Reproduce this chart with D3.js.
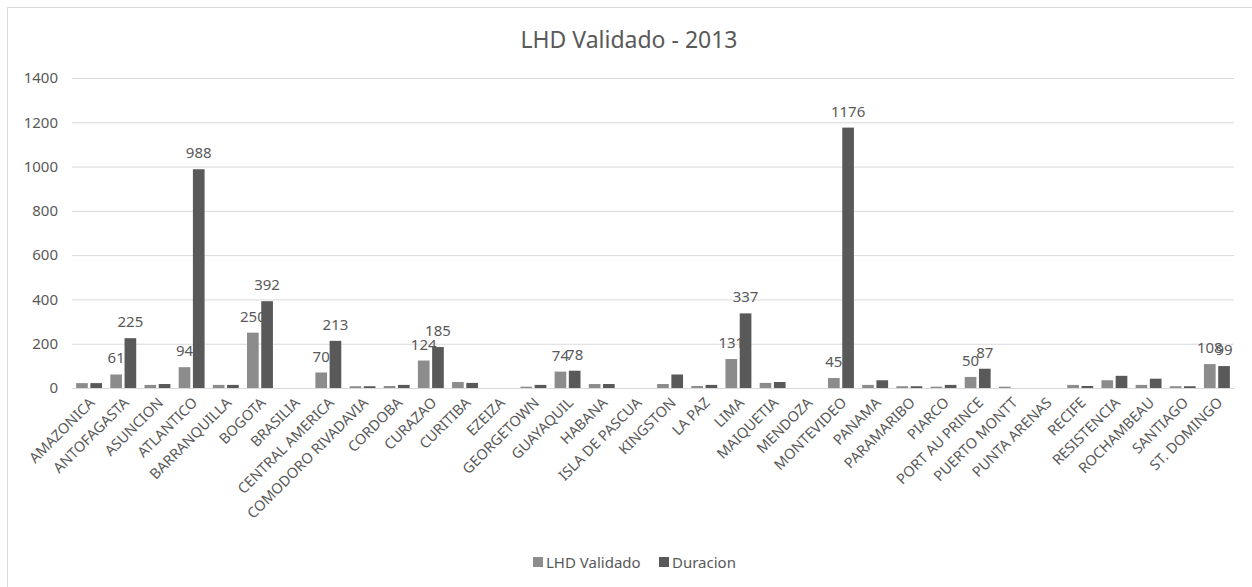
<!DOCTYPE html>
<html>
<head>
<meta charset="utf-8">
<script src="https://cdn.jsdelivr.net/npm/d3@7"></script>
<style>
  body { margin: 0; background: #fff; }
  text { font-family: "Noto Sans", "Open Sans", sans-serif; fill: #595959; }
</style>
</head>
<body>
<div id="chart"></div>
<script>
// values
const categories = ["AMAZONICA", "ANTOFAGASTA", "ASUNCION", "ATLANTICO", "BARRANQUILLA", "BOGOTA", "BRASILIA",
  "CENTRAL AMERICA", "COMODORO RIVADAVIA", "CORDOBA", "CURAZAO", "CURITIBA", "EZEIZA", "GEORGETOWN", "GUAYAQUIL",
  "HABANA", "ISLA DE PASCUA", "KINGSTON", "LA PAZ", "LIMA", "MAIQUETIA", "MENDOZA", "MONTEVIDEO", "PANAMA",
  "PARAMARIBO", "PIARCO", "PORT AU PRINCE", "PUERTO MONTT", "PUNTA ARENAS", "RECIFE", "RESISTENCIA",
  "ROCHAMBEAU", "SANTIAGO", "ST. DOMINGO"]
const lhdValidado = [22, 61, 14, 94, 14, 250, 0, 70, 8, 9, 124, 27, 0, 6, 74, 18, 0, 18, 9, 131, 23, 0, 45, 14,
  8, 6, 50, 6, 0, 14, 35, 14, 8, 108]
const duracion = [22, 225, 18, 988, 14, 392, 0, 213, 8, 14, 185, 23, 0, 14, 78, 18, 0, 61, 14, 337, 27, 0, 1176, 35,
  8, 14, 87, 0, 0, 9, 55, 42, 8, 99]
// categories whose bars carry a data label
const labeled = ["ANTOFAGASTA", "ATLANTICO", "BOGOTA", "CENTRAL AMERICA", "CURAZAO", "GUAYAQUIL", "LIMA",
  "MONTEVIDEO", "PORT AU PRINCE", "ST. DOMINGO"]
const yTicks = [0, 200, 400, 600, 800, 1000, 1200, 1400]
const seriesNames = ["LHD Validado", "Duracion"]
const seriesColors = ["#8c8c8c", "#595959"]

const width = 1252
const height = 587
const plotLeft = 72, plotRight = 1234, plotTop = 78, plotBottom = 388

let svg = d3.select("#chart")
            .append("svg")
            .attr("width", width)
            .attr("height", height)

// chart border
svg.append("rect")
   .attr("x", 7.5).attr("y", 7.5)
   .attr("width", 1400).attr("height", 800)
   .attr("fill", "none")
   .attr("stroke", "#d9d9d9")

svg.append("text")
   .attr("x", 629).attr("y", 48)
   .attr("text-anchor", "middle")
   .style("font-size", "23px")
   .text("LHD Validado - 2013")

let yScale = d3.scaleLinear().domain([0, 1400]).range([plotBottom, plotTop])
let xScale = d3.scaleBand().domain(categories).range([plotLeft, plotRight])
let xSub = d3.scaleBand().domain(seriesNames).range([0, xScale.step()])
             .paddingInner(0.18).paddingOuter(0.29)

//gridlines + y labels
let yAxis = d3.axisLeft(yScale)
              .tickValues(yTicks)
              .tickFormat(d3.format("d"))
              .tickSize(-(plotRight - plotLeft))
              .tickPadding(14)

let yg = svg.append("g")
            .attr("transform", `translate(${plotLeft}, 0)`)
            .call(yAxis)
yg.select(".domain").remove()
yg.selectAll(".tick line").attr("stroke", "#d9d9d9")
yg.selectAll(".tick text").style("font-size", "15px").attr("fill", "#595959")

//bars
let rows = categories.map((c, i) => ({ cat: c, values: [lhdValidado[i], duracion[i]] }))

let groups = svg.selectAll(".grp")
                .data(rows)
                .enter()
                .append("g")
                .attr("class", "grp")
                .attr("transform", d => `translate(${xScale(d.cat)}, 0)`)

groups.selectAll("rect")
      .data(d => d.values.map((v, k) => ({ name: seriesNames[k], v: v, k: k })))
      .enter()
      .append("rect")
      .attr("x", d => xSub(d.name))
      .attr("y", d => yScale(d.v))
      .attr("width", xSub.bandwidth())
      .attr("height", d => plotBottom - yScale(d.v))
      .attr("fill", d => seriesColors[d.k])

//data labels
groups.filter(d => labeled.includes(d.cat))
      .selectAll(".lbl")
      .data(d => d.values.map((v, k) => ({ name: seriesNames[k], v: v })))
      .enter()
      .append("text")
      .attr("class", "lbl")
      .attr("x", d => xSub(d.name) + xSub.bandwidth() / 2)
      .attr("y", d => yScale(d.v) - 11)
      .attr("text-anchor", "middle")
      .style("font-size", "15px")
      .text(d => d.v)

//x axis
let xAxis = d3.axisBottom(xScale).tickSize(0).tickPadding(0)
let xg = svg.append("g")
            .attr("transform", `translate(0, ${plotBottom})`)
            .call(xAxis)
xg.select(".domain").attr("stroke", "#d9d9d9")
xg.selectAll(".tick text")
  .style("font-size", "14.5px")
  .attr("fill", "#595959")
  .attr("text-anchor", "end")
  .attr("y", 0).attr("dy", "0.35em")
  .attr("transform", "translate(3, 12) rotate(-45)")

//legend
let legend = svg.append("g").attr("id", "legend")
let legendX = [533, 659]
seriesNames.forEach((n, i) => {
  legend.append("rect")
        .attr("x", legendX[i]).attr("y", 557)
        .attr("width", 10).attr("height", 10)
        .attr("fill", seriesColors[i])
  legend.append("text")
        .attr("x", legendX[i] + 13).attr("y", 567.5)
        .style("font-size", "15px")
        .text(n)
})
</script>
</body>
</html>
